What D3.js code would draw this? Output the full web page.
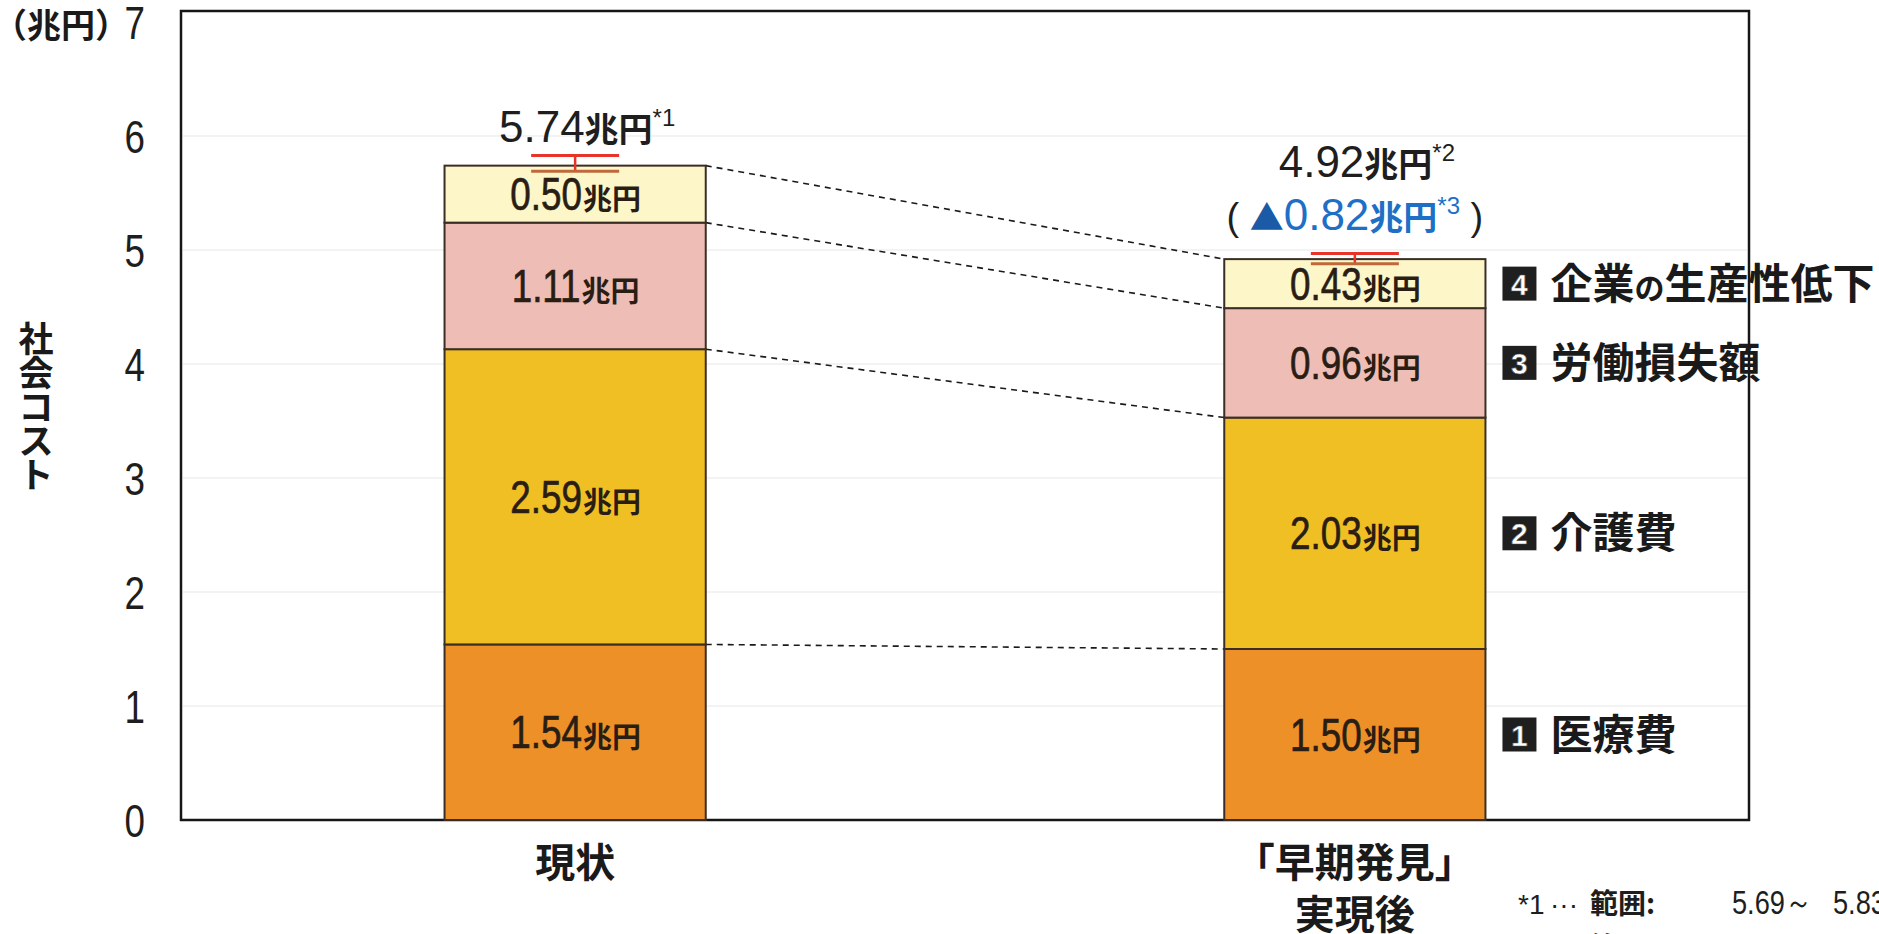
<!DOCTYPE html>
<html>
<head>
<meta charset="utf-8">
<script src="https://cdn.jsdelivr.net/npm/d3@7"></script>
<style>
body { margin: 0; background: #fff; }
svg { display: block; }
.num { font-family: "Liberation Sans", Arial, sans-serif; }
.jp { font-family: "Noto Sans CJK JP", sans-serif; font-weight: 700; }
</style>
</head>
<body>
<div id="chart-area"></div>
<script>

// DATA

var categories = ["現状", "「早期発見」実現後"];
var categoryLines = [["現状"], ["「早期発見」", "実現後"]];
var seriesNames = ["医療費", "介護費", "労働損失額", "企業の生産性低下"];
var seriesNumbers = ["1", "2", "3", "4"];
var medical = [1.54, 1.50];
var care = [2.59, 2.03];
var labor = [1.11, 0.96];
var productivity = [0.50, 0.43];
var totals = [5.74, 4.92];
var totalMarks = ["*1", "*2"];
var rangeLow = [5.69, 4.88];
var rangeHigh = [5.83, 4.97];
var reduction = 0.82;
var reductionMark = "*3";
var yTicks = [0, 1, 2, 3, 4, 5, 6, 7];

var colors = ["#ec9027", "#f0bf24", "#edbdb6", "#fcf6c8"];

// CHART AREA

var W = 1879, H = 934;
var margin = {top: 11, right: 130, bottom: 114, left: 181},
    width = W - margin.left - margin.right,
    height = H - margin.top - margin.bottom;

var NARROW = 0.8;   // horizontal squeeze for the condensed digits

var root = d3.select("#chart-area").append("svg")
    .attr("width", W)
    .attr("height", H);

root.append("rect").attr("width", W).attr("height", H).attr("fill", "#fff");

var svg = root.append("g")
    .attr("transform", "translate(" + margin.left + "," + margin.top + ")");

// SCALES

var x = d3.scaleBand()
    .domain(categories)
    .range([0, width])
    .paddingInner(0.665)
    .paddingOuter(0.338);

var y = d3.scaleLinear()
    .domain([0, 7])
    .range([height, 11]);

var rows = categories.map(function(c, i) {
    var r = {cat: c};
    r[seriesNames[0]] = medical[i];
    r[seriesNames[1]] = care[i];
    r[seriesNames[2]] = labor[i];
    r[seriesNames[3]] = productivity[i];
    return r;
});

var stacked = d3.stack().keys(seriesNames)(rows);
var bw = x.bandwidth();

// number + "兆円" label, centred on cx; digits squeezed, yen not
function valueLabel(parent, cx, baseY, numStr, numSize, yenSize, color) {
    var g = parent.append("g").attr("fill", color);
    var n = g.append("text")
        .attr("class", "num")
        .style("font-size", numSize + "px")
        .attr("stroke", color)
        .attr("stroke-width", 0.7)
        .text(numStr);
    var w1 = n.node().getComputedTextLength() * NARROW;
    var yen = g.append("text")
        .attr("class", "jp")
        .style("font-size", yenSize + "px")
        .text("兆円");
    var w2 = yen.node().getComputedTextLength();
    var left = cx - (w1 + w2) / 2;
    n.attr("transform", "translate(" + left + "," + baseY + ") scale(" + NARROW + ",1)");
    yen.attr("x", left + w1 + 1).attr("y", baseY);
    return g;
}

// faint grid (scan lines in the original)
svg.selectAll(".grid")
    .data(yTicks.slice(1, -1))
    .enter().append("line")
    .attr("x1", 2).attr("x2", width - 2)
    .attr("y1", function(d) { return y(d); })
    .attr("y2", function(d) { return y(d); })
    .attr("stroke", "#f3f3f3")
    .attr("stroke-width", 2);

// frame
svg.append("rect")
    .attr("x", 0).attr("y", 0)
    .attr("width", width).attr("height", height)
    .attr("fill", "none")
    .attr("stroke", "#161616")
    .attr("stroke-width", 2.5);

// AXIS

var yAxisGroup = svg.append("g")
    .call(d3.axisLeft(y).tickValues(yTicks).tickFormat(d3.format("d")).tickSize(0));
yAxisGroup.select(".domain").remove();
yAxisGroup.selectAll("text")
    .attr("class", "num")
    .attr("x", -36 / NARROW)
    .attr("dy", "0.36em")
    .attr("transform", "scale(" + NARROW + ",1)")
    .style("font-size", "46px")
    .attr("fill", "#1e1e1e");

var xAxisGroup = svg.append("g")
    .attr("transform", "translate(0," + height + ")")
    .call(d3.axisBottom(x).tickSize(0).tickFormat(""));
xAxisGroup.select(".domain").remove();
xAxisGroup.selectAll(".tick text").remove();
xAxisGroup.selectAll(".tick").each(function(d, i) {
    var t = d3.select(this).append("text")
        .attr("class", "jp")
        .attr("text-anchor", "middle")
        .attr("fill", "#1a1a1a")
        .style("font-size", "40px");
    categoryLines[i].forEach(function(line, j) {
        t.append("tspan")
            .attr("x", 0)
            .attr("y", 57 + j * 52)
            .text(line);
    });
});

// y axis title and unit
root.append("text")
    .attr("class", "jp")
    .attr("x", -7).attr("y", 38)
    .style("font-size", "34px")
    .attr("fill", "#1a1a1a")
    .text("（兆円）");

var yTitle = root.append("text")
    .attr("class", "jp")
    .attr("text-anchor", "middle")
    .style("font-size", "35px")
    .attr("fill", "#1a1a1a");
"社会コスト".split("").forEach(function(ch, i) {
    yTitle.append("tspan").attr("x", 36).attr("y", 352 + i * 34).text(ch);
});

// ---- CONNECTOR LINES ----
svg.selectAll(".connector")
    .data(stacked)
    .enter().append("line")
    .attr("class", "connector")
    .attr("x1", x(categories[0]) + bw)
    .attr("y1", function(s) { return y(s[0][1]); })
    .attr("x2", x(categories[1]))
    .attr("y2", function(s) { return y(s[1][1]); })
    .attr("stroke", "#1a1a1a")
    .attr("stroke-width", 1.6)
    .attr("stroke-dasharray", "6,5");

// ---- DRAW BARS ----
var layers = svg.selectAll(".layer")
    .data(stacked)
    .enter().append("g")
    .attr("class", "layer")
    .attr("fill", function(s, i) { return colors[i]; });

layers.selectAll("rect")
    .data(function(s) { return s; })
    .enter().append("rect")
    .attr("x", function(d) { return x(d.data.cat); })
    .attr("y", function(d) { return y(d[1]); })
    .attr("height", function(d) { return y(d[0]) - y(d[1]); })
    .attr("width", bw)
    .attr("stroke", "#3a2e26")
    .attr("stroke-width", 2);

// segment labels
var segLabels = svg.append("g");
stacked.forEach(function(s) {
    s.forEach(function(d) {
        valueLabel(segLabels, x(d.data.cat) + bw / 2, y((d[0] + d[1]) / 2) + 16,
            d.data[s.key].toFixed(2), 46, 29, "#2a1d14");
    });
});

// ---- RANGE (ERROR) BARS ----
var capHalf = 44;
var err = svg.selectAll(".err")
    .data(categories)
    .enter().append("g")
    .attr("class", "err")
    .attr("transform", function(c) { return "translate(" + (x(c) + bw / 2) + ",0)"; });

err.append("line")
    .attr("x1", 0).attr("x2", 0)
    .attr("y1", function(c, i) { return y(rangeHigh[i]); })
    .attr("y2", function(c, i) { return y(rangeLow[i]); })
    .attr("stroke", "#e8332a").attr("stroke-width", 2.5);
err.append("line")
    .attr("x1", -capHalf).attr("x2", capHalf)
    .attr("y1", function(c, i) { return y(rangeHigh[i]); })
    .attr("y2", function(c, i) { return y(rangeHigh[i]); })
    .attr("stroke", "#e8332a").attr("stroke-width", 3);
err.append("line")
    .attr("x1", -capHalf).attr("x2", capHalf)
    .attr("y1", function(c, i) { return y(rangeLow[i]); })
    .attr("y2", function(c, i) { return y(rangeLow[i]); })
    .attr("stroke", "#c0683c").attr("stroke-width", 3);

// ---- TOTAL LABELS ----
var blue = "#1e6fc6";
categories.forEach(function(c, i) {
    var cx = x(c) + bw / 2;
    var base = y(rangeHigh[i]) - (i === 0 ? 13 : 76);
    var t = svg.append("text")
        .attr("text-anchor", "middle")
        .attr("x", cx + 12).attr("y", base)
        .attr("fill", "#1e1e1e");
    t.append("tspan").attr("class", "num").style("font-size", "44px").text(totals[i].toFixed(2));
    t.append("tspan").attr("class", "jp").style("font-size", "34px").text("兆円");
    t.append("tspan").attr("class", "num").style("font-size", "24px").attr("dy", -16).text(totalMarks[i]);
});

// reduction label under the second total
(function() {
    var c = categories[1];
    var t = svg.append("text")
        .attr("text-anchor", "middle")
        .attr("x", x(c) + bw / 2)
        .attr("y", y(rangeHigh[1]) - 23)
        .attr("fill", "#1e1e1e");
    t.append("tspan").attr("class", "num").style("font-size", "38px").text("( ");
    t.append("tspan").attr("class", "jp").style("font-size", "34px").attr("fill", "#1a5aa6").text("▲");
    t.append("tspan").attr("class", "num").style("font-size", "44px").attr("fill", blue).text(reduction.toFixed(2));
    t.append("tspan").attr("class", "jp").style("font-size", "34px").attr("fill", blue).text("兆円");
    t.append("tspan").attr("class", "num").style("font-size", "24px").attr("fill", blue).attr("dy", -16).text(reductionMark);
    t.append("tspan").attr("class", "num").style("font-size", "38px").attr("dy", 16).text(" )");
})();

// ---- LEGEND ----
var lastCat = stacked.map(function(s) { return s[1]; });
var legendX = x(categories[1]) + bw + 17;
var legend = svg.selectAll(".legend")
    .data(lastCat)
    .enter().append("g")
    .attr("class", "legend")
    .attr("transform", function(d) { return "translate(" + legendX + "," + y((d[0] + d[1]) / 2) + ")"; });

legend.append("rect")
    .attr("x", 0).attr("y", -17)
    .attr("width", 34).attr("height", 34)
    .attr("fill", "#1f1f1f");
legend.append("text")
    .attr("class", "num")
    .attr("x", 17).attr("y", 11)
    .attr("text-anchor", "middle")
    .style("font-size", "30px")
    .style("font-weight", "700")
    .attr("fill", "#fff")
    .attr("stroke", "#555")
    .attr("stroke-width", 0.6)
    .text(function(d, i) { return seriesNumbers[i]; });
legend.append("text")
    .attr("class", "jp")
    .attr("x", 48).attr("y", 15)
    .style("font-size", "42px")
    .attr("fill", "#1a1a1a")
    .each(function(d, i) {
        var t = d3.select(this);
        seriesNames[i].split("の").forEach(function(part, j) {
            if (j > 0) t.append("tspan").style("font-size", "30px").text("の");
            t.append("tspan").text(part);
        });
    });

// ---- FOOTNOTES ----
var notes = root.append("g").attr("fill", "#1e1e1e");
[0, 1].forEach(function(i) {
    var fy = 914 + i * 44;
    notes.append("text").attr("class", "num").attr("x", 1518).attr("y", fy).style("font-size", "28px").text(totalMarks[i]);
    notes.append("text").attr("class", "num").attr("x", 1550).attr("y", fy).style("font-size", "28px").text("···");
    notes.append("text").attr("class", "jp").attr("x", 1590).attr("y", fy).style("font-size", "28px").text("範囲:");
    notes.append("text").attr("class", "num").attr("transform", "translate(1732," + fy + ") scale(" + NARROW + ",1)")
        .style("font-size", "34px").text(rangeLow[i].toFixed(2) + "～");
    notes.append("text").attr("class", "num").attr("transform", "translate(1833," + fy + ") scale(" + NARROW + ",1)")
        .style("font-size", "34px").text(rangeHigh[i].toFixed(2));
});

</script>
</body>
</html>
